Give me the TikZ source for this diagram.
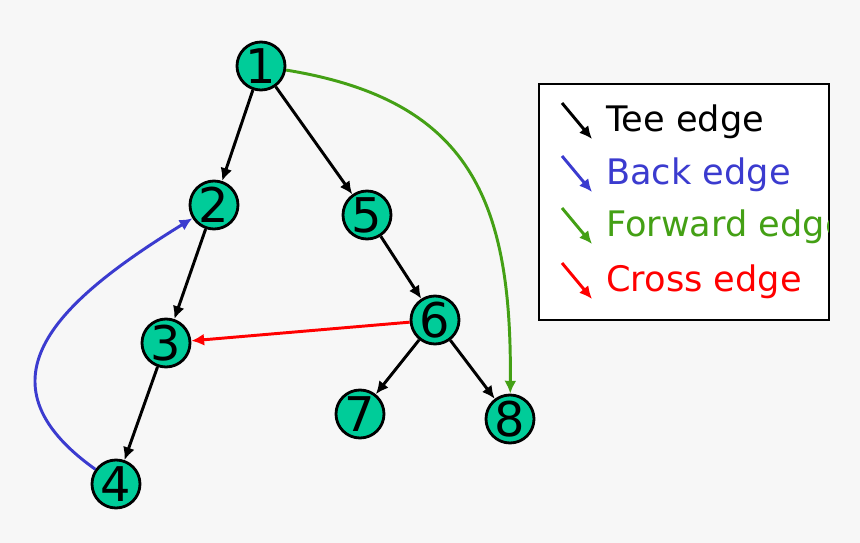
\documentclass[tikz,border=0pt]{standalone}
\usepackage{fontspec}
\setmainfont{DejaVu Sans}
\usepackage{tikz}
\usetikzlibrary{arrows.meta,positioning}
\definecolor{bgc}{HTML}{F7F7F7}
\definecolor{vtxc}{HTML}{00CC99}
\definecolor{backc}{HTML}{3B3BCF}
\definecolor{fwdc}{HTML}{44A015}
\definecolor{crossc}{HTML}{FF0000}

\begin{document}
\begin{tikzpicture}[x=0.025cm, y=-0.025cm,
  vertex/.style={circle, draw=black, line width=2pt, fill=vtxc, minimum size=1.2cm, inner sep=0pt, font=\fontsize{34}{34}\selectfont},
  tree/.style={line width=2.1pt, -{Latex[length=3.2mm, width=3mm]}},
  back/.style={tree, draw=backc},
  fwd/.style={tree, draw=fwdc},
  cross/.style={tree, draw=crossc},
  lgtext/.style={anchor=base west, inner sep=0pt, font=\fontsize{25}{25}\selectfont}]
  \fill[bgc] (0,0) rectangle (860,543);
  \useasboundingbox (0,0) rectangle (860,543);
  % vertices
  \foreach \n/\x/\y in {1/261/66,2/214/205,3/166/343,4/116/484,5/367/215,6/435/320,7/360/414,8/510/419}{
    \node[vertex] (n\n) at (\x,\y) {\n};
  }
  % edges
  \draw[tree] (n1) -- (n2);
  \draw[tree] (n1) -- (n5);
  \draw[tree] (n2) -- (n3);
  \draw[tree] (n3) -- (n4);
  \draw[tree] (n5) -- (n6);
  \draw[tree] (n6) -- (n7);
  \draw[tree] (n6) -- (n8);
  \draw[cross] (n6) -- (n3);
  \draw[fwd] (n1) .. controls (470,100) and (512,200) .. (n8);
  \draw[back] (n4) .. controls (-30,380) and (60,300) .. (n2);
  % legend
  \draw[line width=1pt, fill=white] (539,84) rectangle (829,320);
  \begin{scope}
    \clip (539,84) rectangle (828,320);
    \foreach \k/\y/\c/\t in {T/132/black/Tee edge,B/185/backc/Back edge,F/237/fwdc/Forward edge,C/292/crossc/Cross edge}{
      \coordinate (a\k) at (562,\y-29);
      \coordinate (b\k) at (592,\y+7);
      \draw[tree, draw=\c] (a\k) -- (b\k);
      \node[lgtext, text=\c] (l\k) at (606,\y) {\t};
    }
  \end{scope}
\end{tikzpicture}
\end{document}
